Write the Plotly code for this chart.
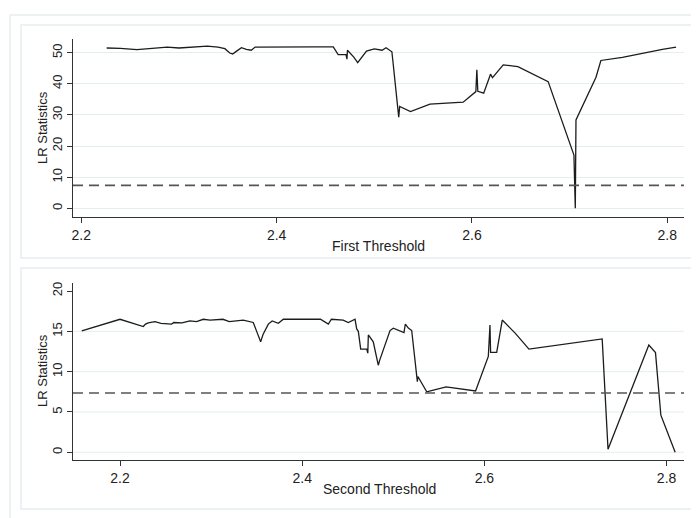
import plotly.graph_objects as go

# ---- data ----
first_x = [2.226, 2.240, 2.257, 2.270, 2.288, 2.300, 2.310, 2.329, 2.340, 2.347,
           2.352, 2.355, 2.359, 2.364, 2.369, 2.374, 2.378, 2.400, 2.420, 2.440,
           2.458, 2.461, 2.463, 2.471, 2.472, 2.4725, 2.479, 2.483, 2.492, 2.500,
           2.508, 2.512, 2.518, 2.519, 2.525, 2.526, 2.537, 2.557, 2.591, 2.604,
           2.605, 2.606, 2.612, 2.619, 2.621, 2.632, 2.647, 2.678, 2.7044, 2.7058,
           2.7065, 2.727, 2.732, 2.754, 2.786, 2.795, 2.809]
first_lr = [51.5, 51.4, 51.0, 51.3, 51.8, 51.5, 51.7, 52.1, 51.8, 51.3,
            49.9, 49.6, 50.5, 51.6, 51.1, 50.8, 51.8, 51.9, 51.9, 51.9,
            51.9, 50.2, 49.4, 49.4, 47.9, 50.8, 48.6, 46.8, 50.5, 51.2,
            50.8, 51.6, 50.3, 47.4, 29.3, 32.7, 31.1, 33.5, 34.1, 37.5,
            44.5, 37.6, 37.0, 43.1, 42.0, 46.1, 45.5, 40.7, 17.1, 0.0,
            28.4, 42.1, 47.5, 48.5, 50.7, 51.1, 51.8]

second_x = [2.158, 2.200, 2.2256, 2.228, 2.231, 2.2384, 2.245, 2.2567, 2.259, 2.268,
            2.2768, 2.284, 2.2915, 2.2988, 2.313, 2.320, 2.3353, 2.3463, 2.350, 2.3525,
            2.3544, 2.357, 2.3628, 2.367, 2.3738, 2.3793, 2.400, 2.420, 2.4287, 2.432,
            2.445, 2.4506, 2.458, 2.4598, 2.4616, 2.4642, 2.4708, 2.472, 2.4726, 2.478,
            2.4835, 2.485, 2.4964, 2.500, 2.5117, 2.5132, 2.5165, 2.5202, 2.5257, 2.5264,
            2.527, 2.5367, 2.544, 2.558, 2.5903, 2.6043, 2.6061, 2.6068, 2.6135, 2.6196,
            2.634, 2.6489, 2.7293, 2.7357, 2.7805, 2.7878, 2.7937, 2.8094]
second_lr = [15.05, 16.5, 15.6, 15.9, 16.05, 16.2, 16.0, 15.9, 16.1, 16.05,
             16.3, 16.2, 16.5, 16.4, 16.5, 16.2, 16.4, 16.1, 15.0, 14.1,
             13.7, 14.6, 15.9, 16.3, 16.0, 16.5, 16.5, 16.5, 15.9, 16.5,
             16.4, 16.1, 16.5, 15.3, 15.0, 12.8, 12.8, 12.3, 14.55, 13.7,
             10.8, 11.4, 15.1, 15.4, 14.85, 15.9, 15.4, 15.1, 9.47, 8.76,
             9.4, 7.5, 7.7, 8.1, 7.6, 11.9, 15.8, 12.4, 12.4, 16.4,
             14.75, 12.8, 14.06, 0.37, 13.3, 12.36, 4.6, 0.0]

critical_value = 7.35
top_yticks = [0, 10, 20, 30, 40, 50]
bottom_yticks = [0, 5, 10, 15, 20]
xticks = [2.2, 2.4, 2.6, 2.8]
x_titles = ["First Threshold", "Second Threshold"]
y_title = "LR Statistics"

# the page body keeps an 8px margin, so the figure is drawn 8px in from the corner
OFF = 8
W, H = 699 - OFF, 518 - OFF
LINE = "#1c1c1c"
GRID = "#e3eef2"
FRAME = "#e6eef1"
FONT = "Liberation Sans, Arial, sans-serif"
NARROW = "Liberation Sans Narrow, Arial Narrow, Liberation Sans, Arial, sans-serif"

def px(x):
    return (x - OFF) / W

def py(y):
    return 1 - (y - OFF) / H

fig = go.Figure()
fig.add_trace(go.Scatter(x=first_x, y=first_lr, mode="lines",
                         line=dict(color=LINE, width=1.3), xaxis="x", yaxis="y",
                         showlegend=False))
fig.add_trace(go.Scatter(x=second_x, y=second_lr, mode="lines",
                         line=dict(color=LINE, width=1.3), xaxis="x2", yaxis="y2",
                         showlegend=False))

xdom = [px(73), px(684)]
axis_common = dict(showline=True, linecolor="#333333", linewidth=1,
                   ticks="outside", ticklen=5, tickcolor="#333333",
                   zeroline=False)

fig.update_layout(
    width=W, height=H,
    margin=dict(l=0, r=0, t=0, b=0),
    paper_bgcolor="white", plot_bgcolor="white",
    font=dict(family=FONT, color="#222222", size=12),
    xaxis=dict(domain=xdom, anchor="y", range=[2.1915, 2.8171],
               tickvals=xticks, ticktext=[f"{v:.1f}" for v in xticks],
               showgrid=False, tickfont=dict(family=NARROW, size=14),
               **axis_common),
    yaxis=dict(domain=[py(217), py(39)], anchor="x", range=[-2.8, 54.4],
               tickvals=top_yticks, tickangle=-90, showgrid=True,
               gridcolor=GRID, gridwidth=1, tickfont=dict(size=13),
               **axis_common),
    xaxis2=dict(domain=xdom, anchor="y2", range=[2.1484, 2.8191],
                tickvals=xticks, ticktext=[f"{v:.1f}" for v in xticks],
                showgrid=False, tickfont=dict(family=NARROW, size=14),
                **axis_common),
    yaxis2=dict(domain=[py(460), py(283)], anchor="x2", range=[-0.96, 21.0],
                tickvals=bottom_yticks, tickangle=-90, showgrid=False,
                tickfont=dict(size=13), **axis_common),
)

shapes = []
# frames (Stata graph combine style)
shapes.append(dict(type="line", xref="paper", yref="paper", x0=px(10), x1=1, y0=py(15), y1=py(15),
                   line=dict(color=FRAME, width=1.5)))
shapes.append(dict(type="line", xref="paper", yref="paper", x0=px(10), x1=px(10), y0=py(15), y1=0,
                   line=dict(color=FRAME, width=1.5)))
shapes.append(dict(type="rect", xref="paper", yref="paper", x0=px(21), x1=px(698), y0=py(258), y1=py(25),
                   line=dict(color=FRAME, width=1.5)))
shapes.append(dict(type="rect", xref="paper", yref="paper", x0=px(21), x1=px(698), y0=py(509), y1=py(268),
                   line=dict(color=FRAME, width=1.5)))
# gridlines for the bottom panel (no line at the top tick)
for v in bottom_yticks[:-1]:
    shapes.append(dict(type="line", xref="x2 domain", yref="y2", x0=0, x1=1, y0=v, y1=v,
                       line=dict(color=GRID, width=1), layer="below"))
# critical value dashed lines
for xr, yr in (("x domain", "y"), ("x2 domain", "y2")):
    shapes.append(dict(type="line", xref=xr, yref=yr, x0=0, x1=1,
                       y0=critical_value, y1=critical_value,
                       line=dict(color="#555555", width=1.6, dash="10px,6px")))
fig.update_layout(shapes=shapes)

annotations = [
    dict(text=y_title, x=px(42), y=py(128), xref="paper", yref="paper", textangle=-90,
         showarrow=False, font=dict(size=13), xanchor="center", yanchor="middle"),
    dict(text=y_title, x=px(42), y=py(371), xref="paper", yref="paper", textangle=-90,
         showarrow=False, font=dict(size=13), xanchor="center", yanchor="middle"),
    dict(text=x_titles[0], x=px(378), y=py(246), xref="paper", yref="paper",
         showarrow=False, font=dict(family=NARROW, size=14), xanchor="center", yanchor="middle"),
    dict(text=x_titles[1], x=px(380), y=py(489), xref="paper", yref="paper",
         showarrow=False, font=dict(family=NARROW, size=14), xanchor="center", yanchor="middle"),
]
fig.update_layout(annotations=annotations)

fig.write_html("out.html")
